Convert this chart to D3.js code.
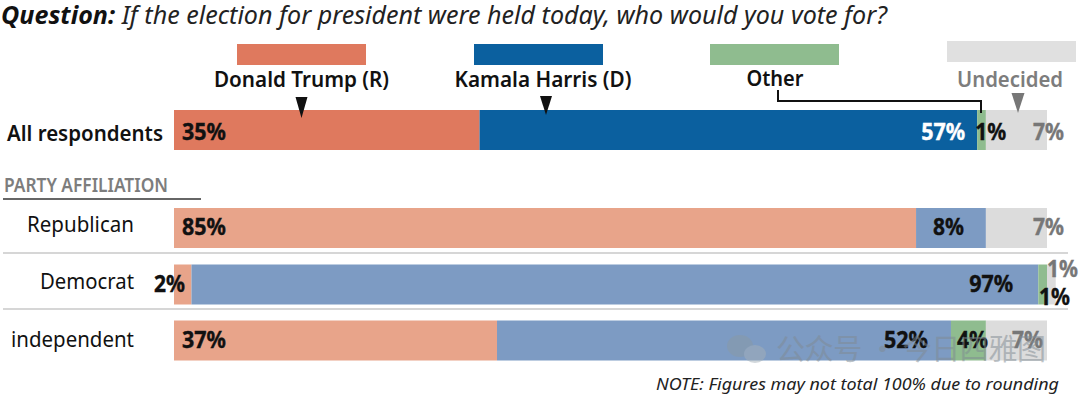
<!DOCTYPE html>
<html><head><meta charset="utf-8">
<script src="https://cdn.jsdelivr.net/npm/d3@7"></script>
<style>html,body{margin:0;padding:0;background:#fff}svg{display:block}text{font-family:"Noto Sans",sans-serif}</style>
</head><body><svg id="c" width="1080" height="394"></svg>
<script>
const groups = ["All respondents","Republican","Democrat","independent"];
const seriesNames = ["Donald Trump (R)","Kamala Harris (D)","Other","Undecided"];
const trump = [35,85,2,37];
const harris = [57,8,97,52];
const other = [1,0,1,4];
const undecided = [7,7,1,7];

const svg = d3.select("#c");
const x = d3.scaleLinear().domain([0,100]).range([174,1047]);
const rowY = d3.scaleOrdinal().domain(groups).range([110,208,264.5,320.5]);
const barH = 40;
const solid = ["#df795e","#0b609f","#8fbc8f","#dcdcdc"];
const pale  = ["#e8a48a","#7d9bc3","#8fbc8f","#dcdcdc"];
const txtCol = ["#111","#111","#111","#777"];
const rows = groups.map((g,i)=>({g,a:trump[i],b:harris[i],c:other[i],d:undecided[i]}));
const stack = d3.stack().keys(["a","b","c","d"])(rows);

// title
const t = svg.append("text").attr("x",1).attr("y",24).attr("font-size",25).attr("font-style","italic").attr("fill","#222")
  .attr("textLength",886).attr("lengthAdjust","spacingAndGlyphs");
t.append("tspan").attr("font-weight",700).attr("fill","#111").text("Question:");
t.append("tspan").text(" If the election for president were held today, who would you vote for?");

// legend swatches
const legX=[237,474,710,947], legY=[44,44,44,41];
seriesNames.forEach((n,i)=>{
  svg.append("rect").attr("x",legX[i]).attr("y",legY[i]).attr("width",129).attr("height",21).attr("fill",i==3?"#e0e0e0":solid[i]);
});
const legLabelX=[301.5,543,775,1010], legLabelW=[175,177,57,106], legBase=[87,87,86,87];
seriesNames.forEach((n,i)=>{
  svg.append("text").attr("x",legLabelX[i]).attr("y",legBase[i]).attr("text-anchor","middle").attr("font-size",22)
   .attr("font-weight",600).attr("fill",i==3?"#7d7d7d":"#111").attr("textLength",legLabelW[i]).attr("lengthAdjust","spacingAndGlyphs").text(n);
});

// bars
stack.forEach((s,si)=>{
  svg.append("g").selectAll("rect").data(s).join("rect")
    .attr("x",d=>x(d[0])).attr("width",d=>x(d[1])-x(d[0]))
    .attr("y",d=>rowY(d.data.g)).attr("height",barH)
    .attr("fill",(d,i)=> (i==0?solid:pale)[si]);
});

// pointers
const tri=(cx,top,w,h,fill)=>svg.append("path").attr("d",d3.line()([[cx-w/2,top],[cx+w/2,top],[cx,top+h]])+"Z").attr("fill",fill);
tri(301.5,97,12,21,"#111");
tri(546,96,12,19,"#111");
tri(1018,93,13,20,"#777");
svg.append("path").attr("d",d3.line()([[778,90],[778,101],[981,101],[981,113]])).attr("fill","none").attr("stroke","#111").attr("stroke-width",2);

// row labels
const rowLabelLeft=[7,27,40,11], rowLabelW=[156,107,94,123], rowLabelDy=[31,24,24.5,26];
groups.forEach((g,i)=>{
  svg.append("text").attr("x",rowLabelLeft[i]).attr("y",rowY(g)+rowLabelDy[i])
    .attr("font-size",22).attr("font-weight",i==0?600:400).attr("fill","#111")
    .attr("textLength",rowLabelW[i]).attr("lengthAdjust","spacingAndGlyphs").text(g);
});
svg.append("text").attr("x",4).attr("y",191.5).attr("font-size",19).attr("font-weight",600).attr("fill","#7d7d7d").attr("textLength",164).attr("lengthAdjust","spacingAndGlyphs").text("PARTY AFFILIATION");
svg.append("line").attr("x1",3).attr("x2",201).attr("y1",199).attr("y2",199).attr("stroke","#333").attr("stroke-width",1.6);
[253,309].forEach(y=>svg.append("line").attr("x1",3).attr("x2",1068).attr("y1",y).attr("y2",y).attr("stroke","#c9c9c9").attr("stroke-width",1.3));

// value labels: left edge offset from the segment start (row, series); Harris labels sit a gap before the segment end
const labelOffset=[
  [8, 0, -2, 1033-x(93)],
  [8, 0, 0, 1033-x(93)],
  [-20, 0, -7, 0],
  [8, 0, 6, 1012-x(93)]
];
const rightGap=[12,22,25,23];
const rowDy=[30,27,27,27.5];
stack.forEach((s,si)=>{
  s.forEach((d,ri)=>{
    const v=d[1]-d[0]; if(v===0) return;
    const w = String(v).length==2 ? 44 : 31;
    let left = si==1 ? x(d[1])-rightGap[ri]-w : x(d[0])+labelOffset[ri][si];
    let dy=rowDy[ri];
    if(ri==2&&si==3){left=1047;dy=12.5;}
    if(ri==2&&si==2){left=1039;dy=40.5;}
    const col = ri==0&&si==1?"#fff":txtCol[si];
    svg.append("text").attr("x",left).attr("y",rowY(groups[ri])+dy)
      .attr("font-size",24).attr("font-weight",700)
      .attr("textLength",w).attr("lengthAdjust","spacingAndGlyphs")
      .attr("fill",col).attr("stroke",col).attr("stroke-width",0.4).text(v+"%");
  });
});

// footnote
svg.append("text").attr("x",656).attr("y",390).attr("font-size",17).attr("font-style","italic").attr("fill","#222")
  .attr("textLength",403).attr("lengthAdjust","spacingAndGlyphs").text("NOTE: Figures may not total 100% due to rounding");

// watermark
const wm=svg.append("g").attr("opacity",0.5);
wm.append("ellipse").attr("cx",740).attr("cy",346).attr("rx",13).attr("ry",11).attr("fill","#8a9aa5");
wm.append("ellipse").attr("cx",755).attr("cy",354).attr("rx",11).attr("ry",9).attr("fill","#a5b0b8");
wm.append("text").attr("x",776).attr("y",360).attr("font-size",29).attr("fill","#7f8a92")
  .style("font-family",'"Noto Sans CJK SC"').attr("textLength",270).attr("lengthAdjust","spacing").text("公众号 · 今日四雅图");
</script></body></html>
